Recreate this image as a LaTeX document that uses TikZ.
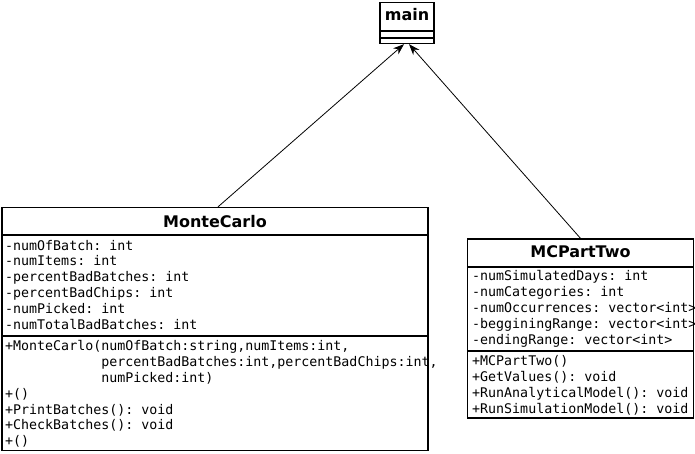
\documentclass[tikz,border=0pt]{standalone}
\usepackage{fontspec}
\setmainfont{DejaVu Sans}
\setmonofont{DejaVu Sans Mono}
\usetikzlibrary{arrows.meta}

\tikzset{
  classbox/.style={draw, line width=1.3pt, inner sep=0pt},
  classline/.style={line width=1.3pt},
  classname/.style={anchor=base, inner sep=0pt, font=\fontsize{16}{18}\selectfont\bfseries},
  member/.style={anchor=base west, inner sep=0pt, font=\fontsize{13.3}{16}\selectfont\ttfamily},
  inherit/.style={-{Stealth[length=11pt,width=8pt]}, line width=0.8pt},
}

\begin{document}
\begin{tikzpicture}[x=1pt,y=-1pt]
\useasboundingbox (0,0) rectangle (695,453);
% class boxes
\node[classbox, minimum width=54pt, minimum height=41pt] (main) at (407,23) {};
\node[classbox, minimum width=426pt, minimum height=243pt] (mc) at (215,329) {};
\node[classbox, minimum width=226pt, minimum height=179pt] (mcp) at (580.5,328.5) {};
% compartments
\draw[classline] (main.west |- 0,31) -- (main.east |- 0,31);
\draw[classline] (main.west |- 0,38) -- (main.east |- 0,38);
\draw[classline] (mc.west |- 0,235) -- (mc.east |- 0,235);
\draw[classline] (mc.west |- 0,336) -- (mc.east |- 0,336);
\draw[classline] (mcp.west |- 0,267) -- (mcp.east |- 0,267);
\draw[classline] (mcp.west |- 0,351) -- (mcp.east |- 0,351);
% names
\node[classname] (maint) at (407,20) {main};
\node[classname] (mct) at (215,227) {MonteCarlo};
\node[classname] (mcpt) at (580.5,257) {MCPartTwo};
% MonteCarlo members
\foreach \t [count=\i from 0] in {-numOfBatch: int, -numItems: int,
    -percentBadBatches: int, -percentBadChips: int, -numPicked: int,
    -numTotalBadBatches: int}
  \node[member] (mca\i) at (5,250+15.9*\i) {\t};
\foreach \t [count=\i from 0] in {{+MonteCarlo(numOfBatch:string,numItems:int,},
    {\phantom{+MonteCarlo(}percentBadBatches:int,percentBadChips:int,},
    {\phantom{+MonteCarlo(}numPicked:int)}, +(), +PrintBatches(): void,
    +CheckBatches(): void, +()}
  \node[member] (mcm\i) at (5,350.7+15.85*\i) {\t};
% MCPartTwo members
\foreach \t [count=\i from 0] in {-numSimulatedDays: int, -numCategories: int,
    -numOccurrences: vector<int>, -begginingRange: vector<int>,
    -endingRange: vector<int>}
  \node[member] (mcpa\i) at (472,280.7+16*\i) {\t};
\foreach \t [count=\i from 0] in {+MCPartTwo(), +GetValues(): void,
    +RunAnalyticalModel(): void, +RunSimulationModel(): void}
  \node[member] (mcpm\i) at (472,365+16*\i) {\t};
% generalisations
\draw[inherit] ([xshift=3pt]mc.north) -- ([xshift=-3pt]main.south);
\draw[inherit] (mcp.north) -- ([xshift=2pt]main.south);
\end{tikzpicture}
\end{document}
